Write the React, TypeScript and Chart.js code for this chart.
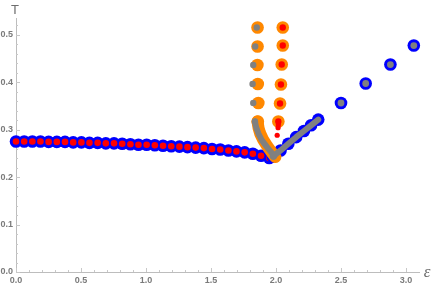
import React, { useEffect, useRef } from "react";
import { Chart, registerables } from "chart.js";
Chart.register(...registerables);

// ---- data ----
const leftX = [0, 0.063, 0.126, 0.188, 0.251, 0.314, 0.377, 0.44, 0.503, 0.565, 0.628, 0.691, 0.754, 0.817, 0.88, 0.942, 1.005, 1.068, 1.131, 1.194, 1.257, 1.319, 1.382, 1.445, 1.508, 1.571, 1.634, 1.696, 1.759, 1.822, 1.885, 1.948];
const leftT = [0.275, 0.275, 0.275, 0.275, 0.274, 0.274, 0.274, 0.273, 0.273, 0.272, 0.272, 0.271, 0.271, 0.27, 0.269, 0.268, 0.268, 0.267, 0.266, 0.265, 0.264, 0.263, 0.262, 0.261, 0.259, 0.258, 0.256, 0.254, 0.252, 0.249, 0.245, 0.24];

const rightDenseX = [1.975, 2.035, 2.095, 2.155, 2.215, 2.27, 2.325];
const rightDenseT = [0.243, 0.256, 0.27, 0.284, 0.297, 0.309, 0.321];
const rightSparseX = [2.5, 2.69, 2.88, 3.06];
const rightSparseT = [0.356, 0.397, 0.437, 0.477];

const orangeLeftX = [1.858, 1.858, 1.857, 1.86, 1.864, 1.86];
const orangeLeftT = [0.515, 0.475, 0.436, 0.396, 0.356, 0.317];
const grayLeftX = [1.852, 1.84, 1.825, 1.82, 1.825, 1.838];
const grayLeftT = [0.515, 0.475, 0.436, 0.396, 0.356, 0.317];

const orangeRightX = [2.052, 2.052, 2.044, 2.038, 2.031, 2.018];
const orangeRightT = [0.515, 0.477, 0.437, 0.395, 0.355, 0.317];
const redRightX = [2.052, 2.052, 2.044, 2.038, 2.031, 2.018];
const redRightT = [0.515, 0.477, 0.437, 0.395, 0.355, 0.317];
const redExtraX = [2.018, 2.016, 2.009];
const redExtraT = [0.31, 0.304, 0.288];

const orangeCurveX = [1.858, 1.866, 1.878, 1.9, 1.933, 1.967, 1.995];
const orangeCurveT = [0.317, 0.303, 0.292, 0.279, 0.265, 0.252, 0.242];
const grayCurveX = [1.838, 1.846, 1.864, 1.89, 1.928, 1.967, 1.985];
const grayCurveT = [0.317, 0.306, 0.292, 0.278, 0.264, 0.251, 0.243];

const xTickValues = [0, 0.5, 1, 1.5, 2, 2.5, 3];
const yTickValues = [0, 0.1, 0.2, 0.3, 0.4, 0.5];
const xAxisLabel = "\u03B5";
const yAxisLabel = "T";

const BLUE = "#0000ff";
const RED = "#ff0000";
const ORANGE = "#ff8800";
const GRAY = "#808080";
const TEXT = "#7a7a7a";
const AXIS = "#bdbdbd";

const pts = (xs: number[], ys: number[]) => xs.map((x, i) => ({ x, y: ys[i] }));

const pointSet = (xs: number[], ys: number[], color: string, r: number, order: number) => ({
  data: pts(xs, ys),
  showLine: false,
  pointRadius: r,
  pointHoverRadius: r,
  pointBackgroundColor: color,
  pointBorderWidth: 0,
  borderWidth: 0,
  order,
  clip: false as const,
});

const lineSet = (xs: number[], ys: number[], color: string, w: number, order: number) => ({
  data: pts(xs, ys),
  showLine: true,
  pointRadius: 0,
  pointHoverRadius: 0,
  borderColor: color,
  borderWidth: w,
  borderCapStyle: "round" as const,
  borderJoinStyle: "round" as const,
  tension: 0,
  order,
  clip: false as const,
});

const decor = {
  id: "decor",
  beforeDatasetsDraw(chart: any) {
    const { ctx, chartArea, scales } = chart;
    const xs = scales.x;
    const ys = scales.y;
    ctx.save();
    ctx.strokeStyle = "#c8c8c8";
    ctx.lineWidth = 1;
    for (let i = 0; i <= 30; i++) {
      const px = Math.round(xs.getPixelForValue(i / 10)) + 0.5;
      const len = i % 5 === 0 ? 4 : 2;
      ctx.beginPath();
      ctx.moveTo(px, chartArea.bottom);
      ctx.lineTo(px, chartArea.bottom - len);
      ctx.stroke();
    }
    for (let i = 0; i <= 26; i++) {
      const py = Math.round(ys.getPixelForValue(i / 50)) + 0.5;
      const len = i % 5 === 0 ? 4 : 2;
      ctx.beginPath();
      ctx.moveTo(chartArea.left, py);
      ctx.lineTo(chartArea.left + len, py);
      ctx.stroke();
    }
    ctx.restore();
  },
  afterDraw(chart: any) {
    const { ctx, chartArea } = chart;
    ctx.save();
    ctx.fillStyle = "#6e6e6e";
    ctx.textAlign = "center";
    ctx.textBaseline = "middle";
    ctx.font = '13px "Liberation Sans"';
    ctx.fillText(yAxisLabel, chartArea.left - 1, chartArea.top - 8);
    ctx.font = 'italic 17px "Liberation Serif"';
    ctx.fillText(xAxisLabel, chartArea.right + 8, chartArea.bottom + 1);
    ctx.restore();
  },
};

export default function App() {
  const ref = useRef<HTMLCanvasElement | null>(null);
  useEffect(() => {
    document.body.style.margin = "0";
    if (!ref.current) return;
    const chart = new Chart(ref.current, {
      type: "scatter",
      data: {
        datasets: [
          pointSet(leftX, leftT, BLUE, 6.3, 20) as any,
          pointSet(leftX, leftT, RED, 3.3, 19) as any,
          pointSet(rightDenseX, rightDenseT, BLUE, 6.3, 18) as any,
          pointSet(rightSparseX, rightSparseT, BLUE, 6.3, 18) as any,
          lineSet(orangeCurveX, orangeCurveT, ORANGE, 12, 16) as any,
          pointSet(orangeLeftX, orangeLeftT, ORANGE, 6.3, 16) as any,
          pointSet(orangeRightX, orangeRightT, ORANGE, 6.3, 16) as any,
          lineSet(grayCurveX, grayCurveT, GRAY, 6, 14) as any,
          lineSet(rightDenseX, rightDenseT, GRAY, 6, 14) as any,
          pointSet(grayLeftX, grayLeftT, GRAY, 3.2, 14) as any,
          pointSet(rightSparseX, rightSparseT, GRAY, 3.4, 14) as any,
          pointSet(redRightX, redRightT, RED, 3.2, 12) as any,
          pointSet(redExtraX, redExtraT, RED, 2.6, 12) as any,
        ],
      },
      options: {
        animation: false,
        responsive: false,
        events: [],
        layout: { padding: { top: 18, right: 17, left: 0, bottom: 0 } },
        plugins: { legend: { display: false }, tooltip: { enabled: false } },
        scales: {
          x: {
            type: "linear",
            min: 0,
            max: 3.1,
            grid: { display: false, drawTicks: false },
            border: { display: true, color: AXIS, width: 1 },
            afterFit: (s: any) => { s.height = 14; },
            afterBuildTicks: (s: any) => { s.ticks = xTickValues.map((v) => ({ value: v })); },
            ticks: {
              autoSkip: false,
              maxRotation: 0,
              padding: 3,
              color: TEXT,
              font: { family: "Liberation Sans", size: 9, weight: "bold" },
              callback: (v: any) => Number(v).toFixed(1),
            },
          },
          y: {
            type: "linear",
            min: 0,
            max: 0.535,
            grid: { display: false, drawTicks: false },
            border: { display: true, color: AXIS, width: 1 },
            afterFit: (s: any) => { s.width = 16; },
            afterBuildTicks: (s: any) => { s.ticks = yTickValues.map((v) => ({ value: v })); },
            ticks: {
              autoSkip: false,
              padding: 3,
              color: TEXT,
              font: { family: "Liberation Sans", size: 9, weight: "bold" },
              callback: (v: any) => Number(v).toFixed(1),
            },
          },
        },
      },
      plugins: [decor],
    });
    return () => chart.destroy();
  }, []);
  return (
    <div style={{ width: 436, height: 286 }}>
      <canvas ref={ref} width={436} height={286} style={{ display: "block" }} />
    </div>
  );
}
